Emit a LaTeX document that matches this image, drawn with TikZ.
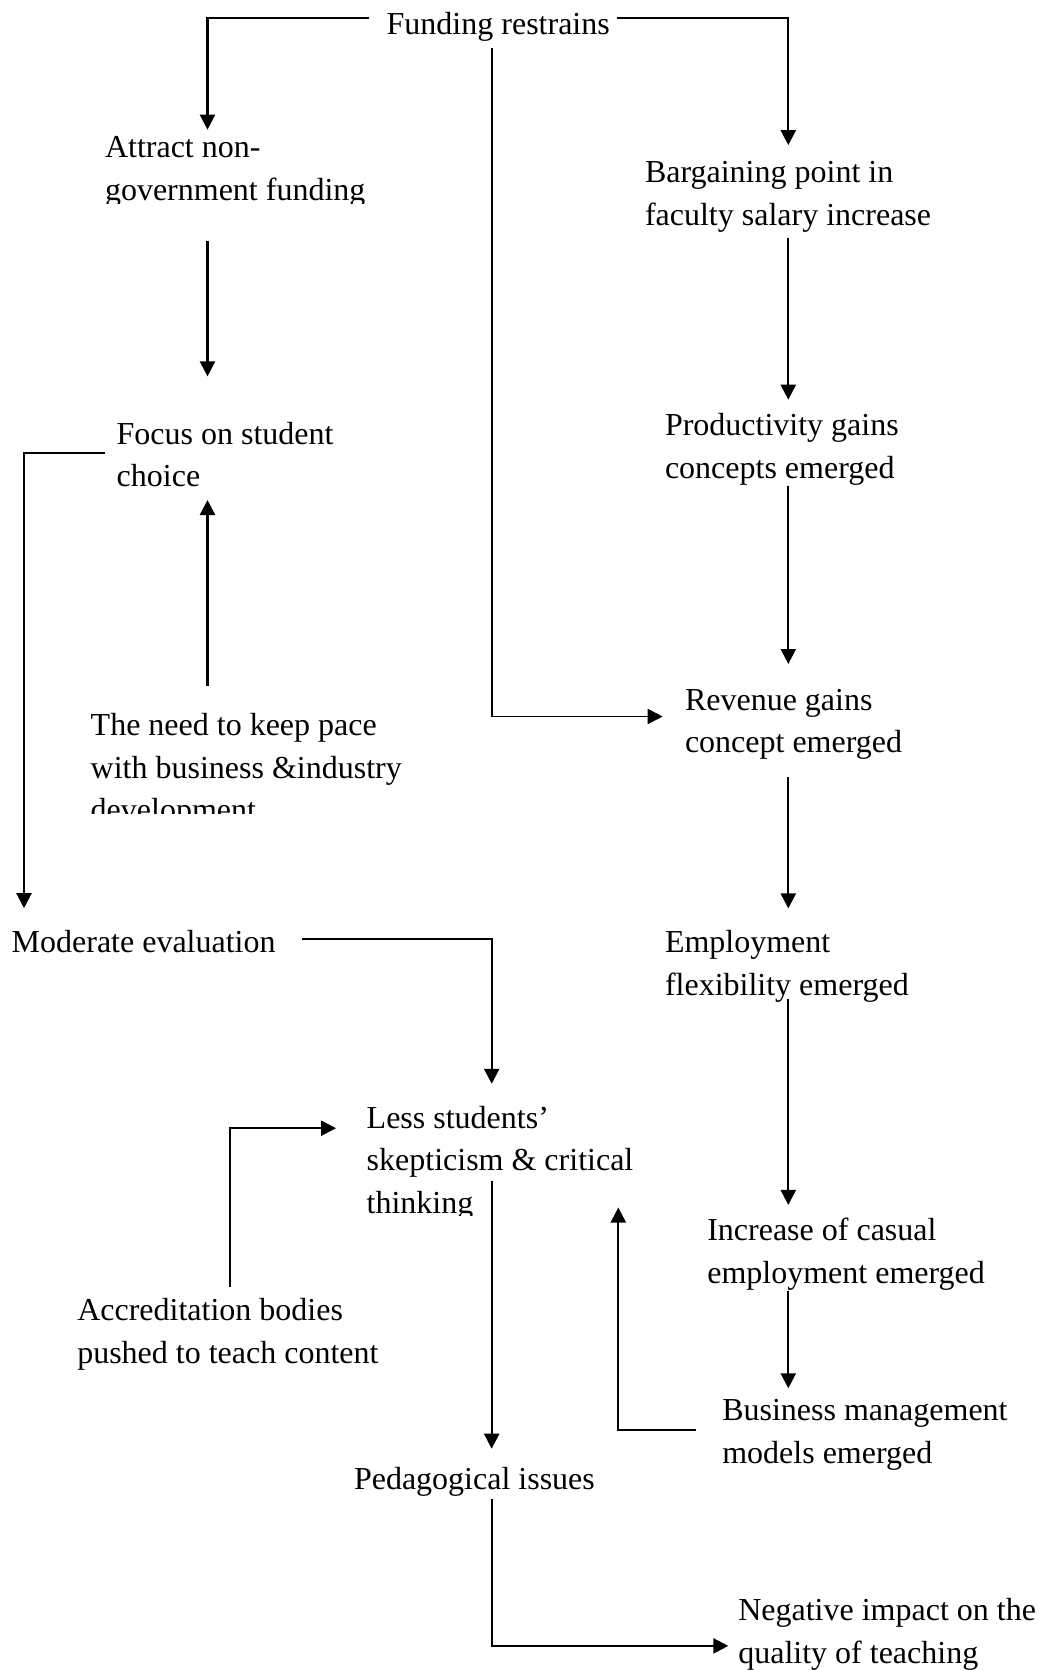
\documentclass[tikz,border=0pt]{standalone}
\usepackage{fontspec}
\setmainfont{Liberation Serif}
\usetikzlibrary{arrows.meta}
% left-aligned block of lines whose baseline is that of its first line
\newcommand{\mylines}[1]{\begin{tabular}[t]{@{}l@{}}#1\end{tabular}}
\begin{document}
\begin{tikzpicture}[x=1pt,y=-1pt,
  lbl/.style={anchor=base west, inner sep=0pt, outer sep=0pt,
              font=\fontsize{32}{42.5}\selectfont},
  link/.style={line width=2.3pt},
  arr/.style={link, -{Triangle[length=15pt,width=15pt]}},
  thin/.style={line width=1.8pt}]
\fill[white] (0,0) rectangle (1041,1670);
\useasboundingbox (0,0) rectangle (1041,1670);

% vertical guide columns for the connectors
\coordinate (colFar) at (24,0);
\coordinate (colL)   at (207.5,0);
\coordinate (colA)   at (230,0);
\coordinate (colM)   at (491.7,0);
\coordinate (colB)   at (618.3,0);
\coordinate (colR)   at (788.3,0);

% ---- left and centre column ----
\node[lbl] (fr) at (386.7,35) {\mylines{Funding restrains}};
\begin{scope}
  \clip (90,100) rectangle (420,203.5);
  \node[lbl] (attract) at (105,157.8) {\mylines{Attract non-\\government funding}};
\end{scope}
\node[lbl] (focus) at (116.7,444) {\mylines{Focus on student\\choice}};
\begin{scope}
  \clip (80,690) rectangle (460,813.9);
  \node[lbl] (need) at (90.7,735.6) {\mylines{The need to keep pace\\with business \&industry\\development}};
\end{scope}
\node[lbl] (moderate) at (11.7,952) {\mylines{Moderate evaluation}};
\begin{scope}
  \clip (350,1090) rectangle (660,1215);
  \node[lbl] (less) at (366.7,1128.2) {\mylines{Less students'\\skepticism \& critical\\thinking}};
\end{scope}
\node[lbl] (accr) at (77.3,1320.5) {\mylines{Accreditation bodies\\pushed to teach content}};
\node[lbl] (ped) at (354,1489.9) {\mylines{Pedagogical issues}};
\node[lbl] (neg) at (738.3,1620.7) {\mylines{Negative impact on the\\quality of teaching}};

% ---- right column ----
\node[lbl] (barg) at (645,182.7) {\mylines{Bargaining point in\\faculty salary increase}};
\node[lbl] (prod) at (665,435.5) {\mylines{Productivity gains\\concepts emerged}};
\node[lbl] (rev) at (685,710.4) {\mylines{Revenue gains\\concept emerged}};
\node[lbl] (emp) at (665,952.5) {\mylines{Employment\\flexibility emerged}};
\node[lbl] (inc) at (707.3,1240.8) {\mylines{Increase of casual\\employment emerged}};
\node[lbl] (bus) at (722.3,1420.7) {\mylines{Business management\\models emerged}};

% ---- connectors (offsets are taken from each node's first baseline) ----
\draw[arr] ([xshift=-17.7pt,yshift=17pt]fr.base west) -| ([yshift=28.1pt]attract.base -| colL);
\draw[arr] ([xshift=6.9pt,yshift=17pt]fr.base east) -| ([yshift=37.6pt]barg.base -| colR);
\draw[arr,thin] ([yshift=-13.4pt]fr.base -| colM) |- ([xshift=-22.3pt,yshift=-6.1pt]rev.base west);

\draw[arr] ([yshift=-83pt]attract.base -| colL) -- ([yshift=67.6pt]focus.base -| colL);
\draw[arr] ([yshift=49.4pt]need.base -| colL) -- ([yshift=-56pt]focus.base -| colL);
\draw[arr] ([xshift=-11.7pt,yshift=-9.3pt]focus.base west) -| ([yshift=43.8pt]moderate.base -| colFar);
\draw[arr] ([xshift=26.4pt,yshift=13pt]moderate.base east) -| ([yshift=44.4pt]less.base -| colM);
\draw[arr] ([yshift=33.1pt]accr.base -| colA) |- ([xshift=-30.7pt]less.base west);
\draw[arr] ([yshift=-52.5pt]less.base -| colM) -- ([yshift=41.2pt]ped.base -| colM);
\draw[arr] ([yshift=-9pt]ped.base -| colM) |- ([xshift=-10pt,yshift=-25.2pt]neg.base west);

\draw[arr] ([yshift=-55.5pt]barg.base -| colR) -- ([yshift=35.8pt]prod.base -| colR);
\draw[arr] ([yshift=-50pt]prod.base -| colR) -- ([yshift=46.4pt]rev.base -| colR);
\draw[arr] ([yshift=-66.4pt]rev.base -| colR) -- ([yshift=44.1pt]emp.base -| colR);
\draw[arr] ([yshift=-46.5pt]emp.base -| colR) -- ([yshift=35.9pt]inc.base -| colR);
\draw[arr] ([yshift=-49.9pt]inc.base -| colR) -- ([yshift=32.4pt]bus.base -| colR);
\draw[arr] ([xshift=-26.3pt,yshift=-9.3pt]bus.base west) -| ([yshift=-79.3pt]less.base -| colB);
\end{tikzpicture}
\end{document}
